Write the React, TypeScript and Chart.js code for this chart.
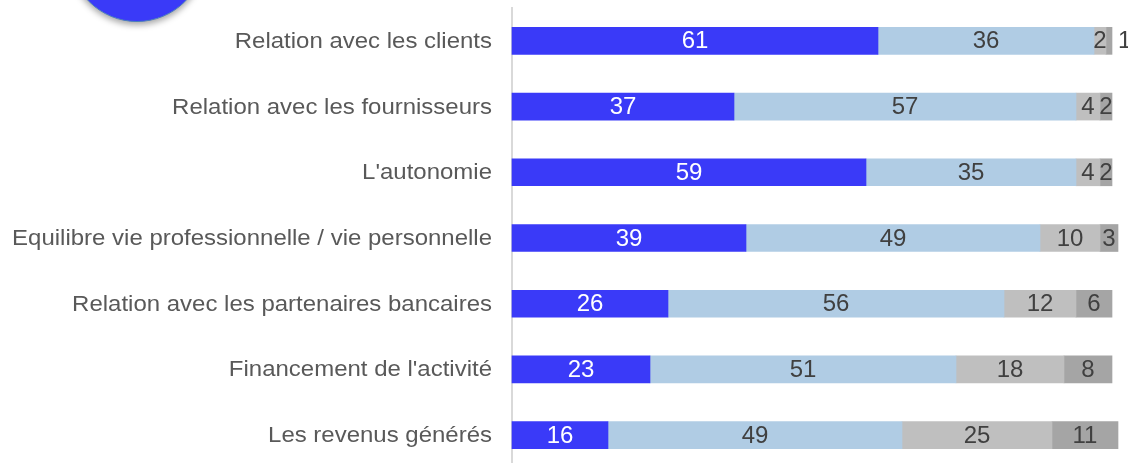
import React, { useEffect, useRef } from "react";
import { Chart, registerables } from "chart.js";

Chart.register(...registerables);

const categories = [
  "Relation avec les clients",
  "Relation avec les fournisseurs",
  "L'autonomie",
  "Equilibre vie professionnelle / vie personnelle",
  "Relation avec les partenaires bancaires",
  "Financement de l'activité",
  "Les revenus générés",
];

const series1 = [61, 37, 59, 39, 26, 23, 16];
const series2 = [36, 57, 35, 49, 56, 51, 49];
const series3 = [2, 4, 4, 10, 12, 18, 25];
const series4 = [1, 2, 2, 3, 6, 8, 11];

const colors = ["#3A3AF8", "#B0CCE4", "#BFBFBF", "#A5A5A5"];
const labelColors = ["#FFFFFF", "#404040", "#404040", "#404040"];

const FONT = "'Liberation Sans', Arial, sans-serif";

const categoryLabels = {
  id: "categoryLabels",
  afterDraw(chart: any) {
    const ctx = chart.ctx;
    const yScale = chart.scales.y;
    ctx.save();
    ctx.font = `22px ${FONT}`;
    ctx.fillStyle = "#595959";
    ctx.textAlign = "right";
    ctx.textBaseline = "middle";
    chart.data.labels.forEach((lab: string, i: number) => {
      const y = yScale.getPixelForTick(i);
      ctx.save();
      ctx.translate(492, y + 1);
      ctx.scale(1.09, 1);
      ctx.fillText(lab, 0, 0);
      ctx.restore();
    });
    ctx.restore();
  },
};

const valueLabels = {
  id: "valueLabels",
  afterDatasetsDraw(chart: any) {
    const ctx = chart.ctx;
    ctx.save();
    ctx.font = `24px ${FONT}`;
    ctx.textBaseline = "middle";
    const n = chart.data.datasets.length;
    chart.data.datasets.forEach((ds: any, di: number) => {
      const meta = chart.getDatasetMeta(di);
      meta.data.forEach((bar: any, i: number) => {
        const v = ds.data[i];
        const txt = String(v);
        const left = bar.base;
        const right = bar.x;
        const w = right - left;
        const tw = ctx.measureText(txt).width;
        if (di === n - 1 && w < tw * 0.7) {
          ctx.fillStyle = "#404040";
          ctx.textAlign = "left";
          ctx.fillText(txt, right + 6, bar.y + 1);
        } else {
          ctx.fillStyle = labelColors[di];
          ctx.textAlign = "center";
          ctx.fillText(txt, (left + right) / 2, bar.y + 1);
        }
      });
    });
    ctx.restore();
  },
};

export default function App() {
  const ref = useRef<HTMLCanvasElement | null>(null);
  useEffect(() => {
    if (!ref.current) return;
    const chart = new Chart(ref.current, {
      type: "bar",
      data: {
        labels: categories,
        datasets: [series1, series2, series3, series4].map((d, i) => ({
          label: `S${i + 1}`,
          data: d,
          backgroundColor: colors[i],
          borderWidth: 0,
          barThickness: 27,
          clip: false,
        })),
      },
      options: {
        indexAxis: "y",
        animation: false,
        responsive: false,
        maintainAspectRatio: false,
        layout: { padding: { top: 8, right: 16, left: 0, bottom: 0 } },
        plugins: { legend: { display: false }, tooltip: { enabled: false } },
        scales: {
          x: {
            stacked: true,
            min: 0,
            max: 100,
            display: false,
          },
          y: {
            stacked: true,
            grid: { display: false, drawOnChartArea: false },
            border: { display: true, color: "#D9D9D9", width: 2 },
            ticks: { display: false },
            afterFit(scale: any) {
              scale.width = 512;
              scale.paddingTop = 0;
              scale.paddingBottom = 0;
            },
          },
        },
      } as any,
      plugins: [valueLabels, categoryLabels],
    });
    return () => chart.destroy();
  }, []);

  return (
    <div
      style={{
        position: "fixed",
        left: 0,
        top: 0,
        width: 1128,
        height: 463,
        overflow: "hidden",
        background: "#fff",
      }}
    >
      <canvas ref={ref} width={1128} height={468} style={{ display: "block" }} />
      <div
        style={{
          position: "absolute",
          left: 69,
          top: -114,
          width: 136,
          height: 136,
          borderRadius: "50%",
          background: "#3A3AF8",
          border: "1px solid #4A7EBB",
          boxSizing: "border-box",
          boxShadow: "0 3px 6px rgba(0,0,0,0.35)",
        }}
      />
    </div>
  );
}
